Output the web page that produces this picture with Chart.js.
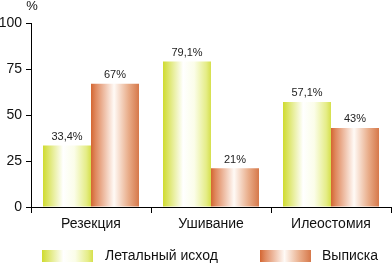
<!DOCTYPE html>
<html>
<head>
<meta charset="utf-8">
<script src="https://cdn.jsdelivr.net/npm/chart.js@4"></script>
<style>
  html, body { margin: 0; padding: 0; background: #fff; }
  #wrap { width: 392px; height: 264px; }
</style>
</head>
<body>
<div id="wrap"><canvas id="chart" width="392" height="264"></canvas></div>
<script>
// Chart data
const categories = ['Резекция', 'Ушивание', 'Илеостомия'];
const lethal = [33.4, 79.1, 57.1];
const discharge = [67, 21, 43];
const seriesNames = ['Летальный исход', 'Выписка'];
const yTicks = [0, 25, 50, 75, 100];

const FONT = "'Liberation Sans Narrow', 'Arial Narrow', 'Liberation Sans', Arial, sans-serif";

// Gradient stops for bars (left -> right)
const greenStops = [[0, '#cfdb2e'], [0.12, '#dde66c'], [0.42, '#ffffff'], [0.65, '#fbfde9'], [0.9, '#e5ed88'], [1, '#d6e04c']];
const orangeStops = [[0, '#d46632'], [0.1, '#e08a60'], [0.48, '#fffaf6'], [0.78, '#e9ad8a'], [1, '#d6784a']];

function makeGradient(c, left, width, stops) {
  const g = c.createLinearGradient(left, 0, left + width, 0);
  stops.forEach(s => g.addColorStop(s[0], s[1]));
  return g;
}

// Fill each bar with its own horizontal gradient
function barFill(stops, dsIndex) {
  return function (ctx) {
    const chart = ctx.chart;
    const x = chart.scales.x;
    if (!x || !chart.chartArea || ctx.type !== 'data') return stops[0][1];
    const cat = x.width / categories.length;
    const w = cat * 0.4;
    const left = x.getPixelForValue(ctx.dataIndex) - w + dsIndex * w;
    return makeGradient(chart.ctx, left, w, stops);
  };
}

// Value labels above bars, title "%" and the legend
const extras = {
  id: 'extras',
  afterDatasetsDraw(chart) {
    const c = chart.ctx;
    c.save();
    c.font = '11px ' + FONT;
    c.fillStyle = '#222';
    c.textAlign = 'center';
    c.textBaseline = 'bottom';
    chart.data.datasets.forEach((ds, i) => {
      chart.getDatasetMeta(i).data.forEach((el, j) => {
        c.fillText(String(ds.data[j]).replace('.', ',') + '%', el.x, el.y - 3);
      });
    });
    c.restore();
  },
  afterDraw(chart) {
    const c = chart.ctx;
    const y = chart.scales.y;
    c.save();
    c.font = '13px ' + FONT;
    c.fillStyle = '#111';
    c.textAlign = 'center';
    c.textBaseline = 'top';
    c.fillText('%', y.right + 1, 0);

    // legend
    const items = [
      { box: 42, text: 105, stops: greenStops },
      { box: 260, text: 322, stops: orangeStops }
    ];
    c.font = '14px ' + FONT;
    c.textAlign = 'left';
    c.textBaseline = 'middle';
    items.forEach((it, i) => {
      c.fillStyle = makeGradient(c, it.box, 51, it.stops);
      c.fillRect(it.box, 250, 51, 12);
      c.fillStyle = '#111';
      c.fillText(seriesNames[i], it.text, 256);
    });
    c.restore();
  }
};

const ctx = document.getElementById('chart').getContext('2d');
const chart = new Chart(ctx, {
  type: 'bar',
  data: {
    labels: categories,
    datasets: [
      { label: seriesNames[0], data: lethal, backgroundColor: barFill(greenStops, 0), borderWidth: 0 },
      { label: seriesNames[1], data: discharge, backgroundColor: barFill(orangeStops, 1), borderWidth: 0 }
    ]
  },
  options: {
    responsive: false,
    animation: false,
    devicePixelRatio: 1,
    layout: { padding: { top: 23, right: 1, bottom: 28, left: 0 } },
    datasets: { bar: { categoryPercentage: 0.8, barPercentage: 1.0 } },
    plugins: { legend: { display: false }, tooltip: { enabled: false } },
    scales: {
      x: {
        afterFit: s => { s.height = 29; },
        grid: { drawOnChartArea: false, drawTicks: true, tickLength: 6, color: '#000', offset: true },
        border: { color: '#000', width: 1 },
        ticks: { color: '#111', padding: 3, font: { family: FONT, size: 14 } }
      },
      y: {
        min: 0,
        max: 100,
        afterFit: s => { s.width = 31; },
        afterBuildTicks: s => { s.ticks = yTicks.map(v => ({ value: v })); },
        grid: { drawOnChartArea: false, drawTicks: true, tickLength: 5, color: '#000' },
        border: { color: '#000', width: 1 },
        ticks: { color: '#111', padding: 4, font: { family: FONT, size: 14 } }
      }
    }
  },
  plugins: [extras]
});
</script>
</body>
</html>
